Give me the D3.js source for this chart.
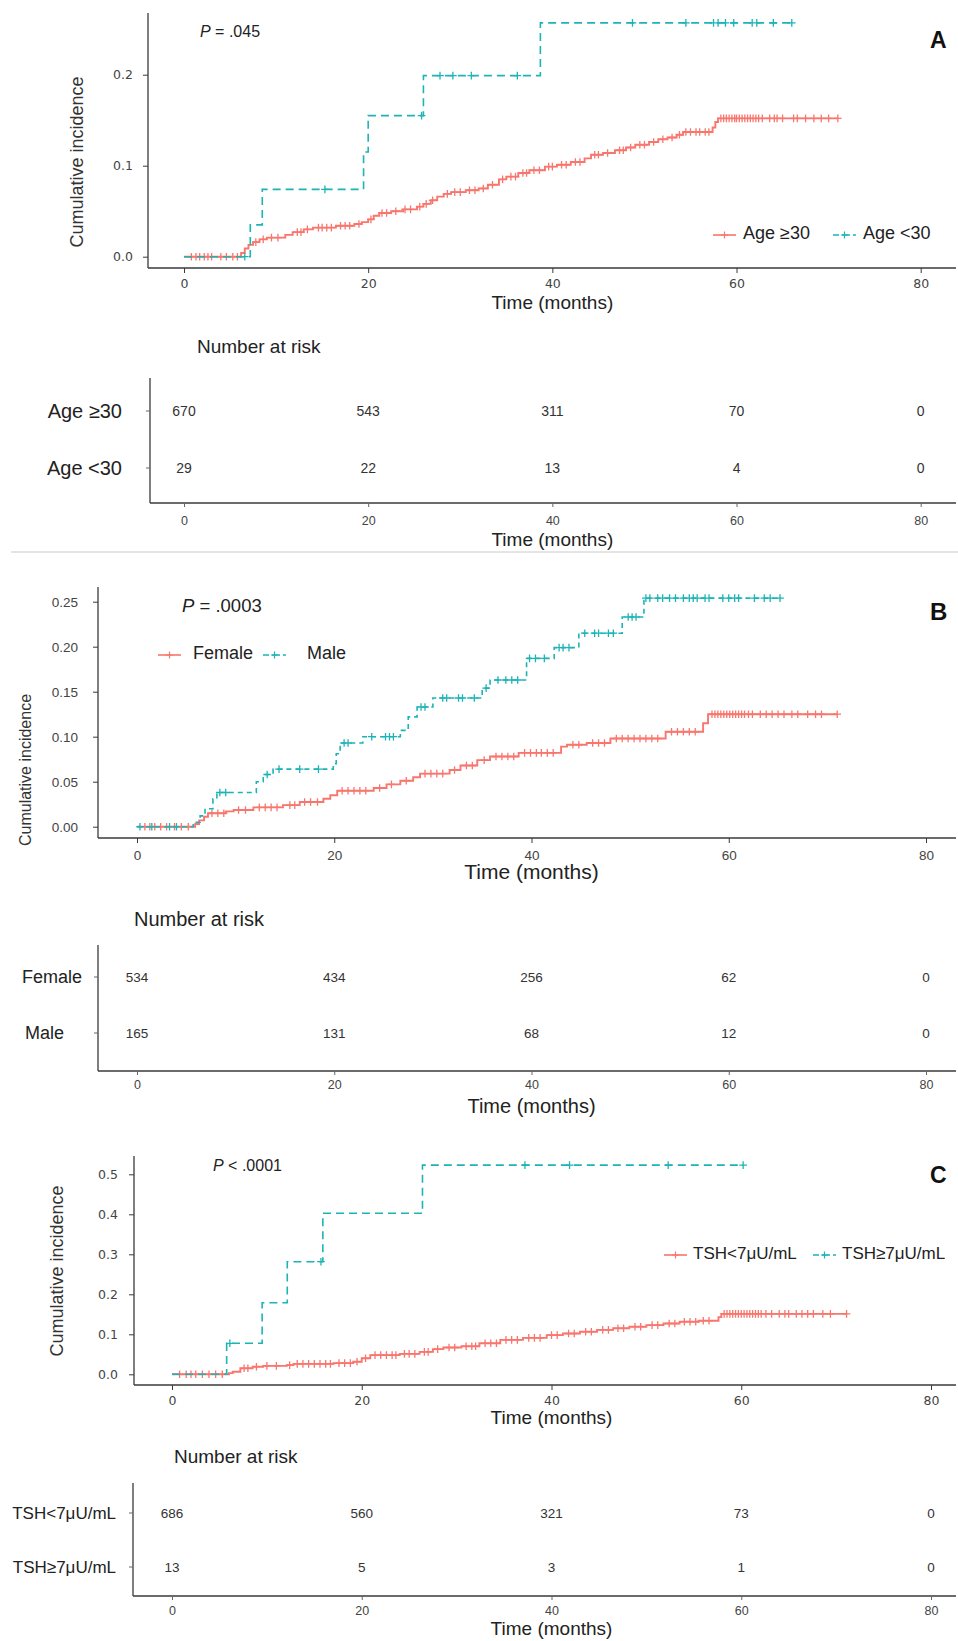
<!DOCTYPE html>
<html>
<head>
<meta charset="utf-8">
<script src="https://cdn.jsdelivr.net/npm/d3@7"></script>
<style>
  body { margin: 0; background: #fff; }
  svg { display: block; }
</style>
</head>
<body>
<script>
const RED = "#F8766D";
const TEAL = "#1DB4B6";
const xTicks = [0, 20, 40, 60, 80];
const riskTimes = [0, 20, 40, 60, 80];

// ---- Panel A : age ----
const ageGE30Times = [6.2, 6.6, 7.0, 7.5, 8.2, 9.0, 11.0, 11.8, 13.0, 14.0, 16.5, 18.5, 19.3, 20.0, 20.6, 21.2, 22.5, 23.8, 25.3, 26.0, 26.8, 27.5, 28.2, 29.0, 30.6, 32.0, 33.0, 34.2, 35.0, 36.3, 37.5, 39.2, 40.5, 42.0, 43.5, 44.2, 45.5, 46.8, 48.0, 49.0, 50.5, 51.5, 52.5, 53.5, 54.2, 57.4, 57.7, 58.0];
const ageGE30Inc   = [0.004, 0.009, 0.013, 0.016, 0.019, 0.021, 0.024, 0.027, 0.030, 0.032, 0.034, 0.036, 0.038, 0.041, 0.045, 0.048, 0.050, 0.052, 0.055, 0.058, 0.062, 0.066, 0.069, 0.071, 0.073, 0.075, 0.079, 0.085, 0.088, 0.092, 0.095, 0.099, 0.101, 0.104, 0.108, 0.112, 0.114, 0.117, 0.120, 0.123, 0.126, 0.129, 0.131, 0.134, 0.137, 0.142, 0.148, 0.152];
const ageGE30End = 71.0;
const ageGE30Censor = [0.8, 1.3, 1.7, 2.2, 2.6, 3.0, 4.0, 4.6, 5.3, 5.8, 7.8, 8.6, 9.5, 10.2, 12.3, 12.7, 13.4, 14.6, 15.0, 15.5, 16.0, 17.0, 17.5, 18.0, 19.0, 20.3, 21.5, 22.0, 23.0, 24.0, 24.6, 25.6, 26.3, 27.0, 28.6, 29.4, 30.0, 31.0, 31.6, 32.5, 33.5, 34.6, 35.5, 36.0, 36.8, 37.2, 38.0, 38.6, 39.6, 40.0, 41.0, 41.5, 42.5, 43.0, 44.6, 45.0, 46.0, 47.3, 47.7, 48.5, 49.5, 50.0, 51.0, 52.0, 53.0, 53.8, 54.5, 55.0, 55.6, 56.0, 56.6, 57.0, 58.3, 58.6, 58.9, 59.2, 59.5, 59.8, 60.0, 60.3, 60.6, 60.9, 61.2, 61.5, 61.8, 62.1, 62.4, 62.8, 63.6, 64.1, 64.4, 65.0, 66.2, 66.6, 67.5, 68.4, 69.2, 70.0, 71.0];
const ageLT30Times = [7.2, 8.5, 19.5, 20.0, 26.0, 38.7];
const ageLT30Inc   = [0.035, 0.074, 0.115, 0.155, 0.199, 0.257];
const ageLT30End = 66.0;
const ageLT30Censor = [6.6, 15.3, 25.8, 27.8, 29.2, 31.2, 36.2, 48.7, 54.5, 57.5, 58.0, 58.8, 59.7, 61.7, 62.2, 64.0, 66.0];
const ageRows = ["Age \u226530", "Age <30"];
const ageRisk = [[670, 543, 311, 70, 0], [29, 22, 13, 4, 0]];

// ---- Panel B : sex ----
const femaleTimes = [5.9, 6.3, 6.8, 7.2, 9.0, 9.8, 11.8, 14.8, 16.5, 18.9, 19.6, 20.3, 24.0, 25.3, 26.7, 28.0, 28.7, 31.7, 32.8, 34.5, 35.8, 38.7, 43.0, 43.6, 45.6, 48.0, 53.6, 57.4, 57.9];
const femaleInc   = [0.003, 0.007, 0.011, 0.015, 0.017, 0.0185, 0.0215, 0.024, 0.0275, 0.031, 0.035, 0.040, 0.043, 0.047, 0.051, 0.055, 0.059, 0.063, 0.068, 0.074, 0.078, 0.082, 0.089, 0.091, 0.093, 0.098, 0.1055, 0.115, 0.125];
const femaleEnd = 71.0;
const femaleCensor = [0.8, 1.3, 1.8, 2.4, 3.0, 3.8, 4.5, 5.2, 7.6, 8.2, 8.8, 10.3, 11.0, 12.4, 13.0, 13.6, 14.2, 15.5, 16.0, 17.0, 17.6, 18.3, 20.8, 21.4, 22.0, 22.6, 23.2, 24.6, 25.8, 27.3, 29.2, 29.8, 30.4, 31.0, 32.2, 33.4, 34.0, 35.2, 36.4, 37.0, 37.6, 38.2, 39.3, 39.9, 40.5, 41.0, 41.6, 42.2, 44.2, 44.8, 46.2, 46.8, 47.4, 48.6, 49.2, 49.8, 50.4, 51.0, 51.6, 52.2, 52.8, 54.2, 54.8, 55.4, 56.0, 56.6, 58.3, 58.6, 58.9, 59.2, 59.5, 59.8, 60.1, 60.4, 60.7, 61.0, 61.3, 61.6, 62.0, 62.4, 63.2, 63.8, 64.4, 65.0, 65.6, 66.4, 67.0, 68.0, 68.8, 69.4, 71.0];
const maleTimes = [5.7, 6.4, 6.9, 7.7, 8.1, 12.1, 12.8, 13.8, 19.9, 20.2, 20.6, 22.9, 26.7, 27.5, 28.4, 30.0, 35.0, 35.8, 39.5, 42.3, 44.8, 49.2, 51.4];
const maleInc   = [0.005, 0.012, 0.020, 0.031, 0.038, 0.050, 0.058, 0.064, 0.070, 0.081, 0.093, 0.100, 0.107, 0.122, 0.133, 0.143, 0.154, 0.163, 0.187, 0.199, 0.215, 0.233, 0.254];
const maleEnd = 65.2;
const maleCensor = [0.3, 1.5, 3.3, 4.0, 8.4, 9.0, 13.2, 14.4, 16.5, 18.4, 21.0, 21.4, 23.8, 25.2, 25.6, 26.0, 28.8, 29.2, 31.0, 31.4, 32.6, 33.0, 34.2, 35.4, 36.6, 37.4, 38.0, 38.6, 39.8, 40.4, 41.3, 42.8, 43.2, 43.8, 45.4, 46.4, 46.8, 47.8, 48.3, 49.8, 50.2, 50.6, 51.6, 52.0, 52.8, 53.3, 54.0, 54.6, 55.4, 56.0, 56.4, 56.8, 57.6, 58.0, 59.4, 60.0, 60.6, 61.0, 62.6, 63.6, 64.2, 65.2];
const sexRows = ["Female", "Male"];
const sexRisk = [[534, 434, 256, 62, 0], [165, 131, 68, 12, 0]];

// ---- Panel C : TSH ----
const tshLowTimes = [6.0, 6.4, 7.2, 8.5, 9.6, 12.1, 12.8, 17.0, 19.1, 20.0, 20.9, 24.0, 26.1, 27.5, 28.6, 30.5, 32.4, 34.6, 37.0, 39.5, 41.2, 43.0, 44.8, 46.5, 48.2, 50.0, 51.8, 53.5, 55.5, 57.6, 57.9];
const tshLowInc   = [0.003, 0.0065, 0.015, 0.019, 0.021, 0.023, 0.026, 0.028, 0.0315, 0.040, 0.048, 0.051, 0.056, 0.063, 0.067, 0.070, 0.0775, 0.086, 0.091, 0.098, 0.102, 0.1065, 0.111, 0.115, 0.119, 0.123, 0.127, 0.1315, 0.134, 0.143, 0.151];
const tshLowEnd = 71.1;
const tshLowCensor = [0.8, 1.5, 2.0, 2.5, 3.2, 3.9, 4.6, 5.3, 7.6, 8.0, 8.9, 10.0, 11.0, 12.4, 13.2, 13.8, 14.4, 15.0, 15.6, 16.2, 16.7, 17.6, 18.2, 18.8, 19.5, 20.4, 21.4, 22.0, 22.6, 23.2, 23.6, 24.5, 25.0, 25.6, 26.6, 27.0, 28.0, 29.2, 29.8, 31.0, 31.6, 32.0, 33.0, 33.6, 34.2, 35.2, 35.8, 36.4, 37.6, 38.2, 38.8, 40.0, 40.6, 41.8, 42.4, 43.6, 44.2, 45.4, 46.0, 47.0, 47.6, 48.8, 49.4, 50.6, 51.2, 52.4, 53.0, 54.0, 54.6, 55.2, 56.0, 56.6, 58.2, 58.5, 58.8, 59.1, 59.4, 59.7, 60.0, 60.3, 60.6, 60.9, 61.2, 61.5, 61.8, 62.1, 62.6, 63.2, 64.0, 64.6, 65.0, 65.8, 66.4, 67.0, 67.6, 68.6, 69.4, 71.1];
const tshHighTimes = [5.76, 9.5, 12.15, 15.9, 26.4];
const tshHighInc   = [0.0775, 0.179, 0.2815, 0.4025, 0.523];
const tshHighEnd = 60.2;
const tshHighCensor = [6.1, 15.7, 37.2, 41.9, 52.3, 60.2];
const tshRows = ["TSH<7\u03bcU/mL", "TSH\u22657\u03bcU/mL"];
const tshRisk = [[686, 560, 321, 73, 0], [13, 5, 3, 1, 0]];

const SANS = "'Liberation Sans', Arial, sans-serif";
const DEJA = "'DejaVu Sans', Verdana, sans-serif";

const panels = [
  {
    letter: "A", pSign: "=", pValue: ".045",
    series: [
      {times: ageGE30Times, inc: ageGE30Inc, end: ageGE30End, censor: ageGE30Censor, color: RED, dash: null},
      {times: ageLT30Times, inc: ageLT30Inc, end: ageLT30End, censor: ageLT30Censor, color: TEAL, dash: "8,5"}
    ],
    legend: ageRows, rows: ageRows, risk: ageRisk,
    yTicks: [0, 0.1, 0.2], yFmt: ".1f",
    L: {x0: 184, x80: 920.7, axL: 148, y0: 256.7, y1: 165.7, yv1: 0.1, top: 13, bot: 268,
        tickFont: DEJA, tickSize: 12.5, tickGap: 10, xLabY: 288,
        xTitleY: 309, xTitleSize: 19, yTitleX: 77, yTitleY: 162, yTitleSize: 18,
        pX: 200, pY: 37, pSize: 16, letterY: 48, letterSize: 23,
        legY: 239, legSize: 18, legKeys: [713, 833], legText: [743, 863],
        narX: 197, narY: 353, narSize: 19, rAxL: 150, rTop: 378, rBot: 503,
        rowY: [411, 468], rowX: [122, 122], rowSize: 20, numSize: 14,
        rTickY: 525, rTitleY: 546, rTitleSize: 19, sep: 552}
  },
  {
    letter: "B", pSign: "=", pValue: ".0003",
    series: [
      {times: femaleTimes, inc: femaleInc, end: femaleEnd, censor: femaleCensor, color: RED, dash: null},
      {times: maleTimes, inc: maleInc, end: maleEnd, censor: maleCensor, color: TEAL, dash: "5,4"}
    ],
    legend: sexRows, rows: sexRows, risk: sexRisk,
    yTicks: [0, 0.05, 0.10, 0.15, 0.20, 0.25], yFmt: ".2f",
    L: {x0: 137, x80: 926, axL: 98, y0: 826.7, y1: 781.7, yv1: 0.05, top: 587, bot: 838,
        tickFont: SANS, tickSize: 13.5, tickGap: 15, xLabY: 860,
        xTitleY: 879, xTitleSize: 21, yTitleX: 25, yTitleY: 770, yTitleSize: 16,
        pX: 182, pY: 612, pSize: 18.5, letterY: 620, letterSize: 24,
        legY: 659, legSize: 18, legKeys: [158, 263], legText: [193, 307],
        narX: 134, narY: 926, narSize: 20, rAxL: 98, rTop: 945, rBot: 1071,
        rowY: [977, 1033], rowX: [82, 64], rowSize: 18, numSize: 13.5,
        rTickY: 1089, rTitleY: 1113, rTitleSize: 20, sep: null}
  },
  {
    letter: "C", pSign: "<", pValue: ".0001",
    series: [
      {times: tshLowTimes, inc: tshLowInc, end: tshLowEnd, censor: tshLowCensor, color: RED, dash: null},
      {times: tshHighTimes, inc: tshHighInc, end: tshHighEnd, censor: tshHighCensor, color: TEAL, dash: "8,5"}
    ],
    legend: tshRows, rows: tshRows, risk: tshRisk,
    yTicks: [0, 0.1, 0.2, 0.3, 0.4, 0.5], yFmt: ".1f",
    L: {x0: 172, x80: 931, axL: 134, y0: 1374.3, y1: 1334.3, yv1: 0.1, top: 1156, bot: 1385,
        tickFont: DEJA, tickSize: 12.5, tickGap: 11, xLabY: 1405,
        xTitleY: 1424, xTitleSize: 19, yTitleX: 57, yTitleY: 1271, yTitleSize: 18,
        pX: 213, pY: 1171, pSize: 16, letterY: 1183, letterSize: 23,
        legY: 1259, legSize: 17, legKeys: [664, 813], legText: [693, 842],
        narX: 174, narY: 1463, narSize: 19, rAxL: 133, rTop: 1483, rBot: 1596,
        rowY: [1513, 1567], rowX: [116, 116], rowSize: 17, numSize: 13.5,
        rTickY: 1615, rTitleY: 1635, rTitleSize: 19, sep: null}
  }
];

const W = 958, H = 1641;
const svg = d3.select("body").append("svg").attr("width", W).attr("height", H);

function plus(x, y, s) {
  return `M${x - s},${y}h${2 * s}M${x},${y - s}v${2 * s}`;
}
function valueAt(times, inc, t) {
  let v = 0;
  times.forEach((tt, i) => { if (tt <= t) v = inc[i]; });
  return v;
}

panels.forEach(p => {
  const L = p.L;
  const x = d3.scaleLinear().domain([0, 80]).range([L.x0, L.x80]);
  const y = d3.scaleLinear().domain([0, L.yv1]).range([L.y0, L.y1]);
  const g = svg.append("g");

  // axes
  const axisCol = "#3a3a3a";
  g.append("line").attr("x1", L.axL).attr("x2", L.axL).attr("y1", L.top).attr("y2", L.bot)
    .attr("stroke", axisCol).attr("stroke-width", 1.3);
  g.append("line").attr("x1", L.axL).attr("x2", W - 2).attr("y1", L.bot).attr("y2", L.bot)
    .attr("stroke", axisCol).attr("stroke-width", 1.3);

  const yAx = g.append("g").attr("transform", `translate(${L.axL},0)`)
    .call(d3.axisLeft(y).tickValues(p.yTicks).tickFormat(d3.format(p.yFmt)).tickSize(5).tickPadding(L.tickGap));
  yAx.select(".domain").remove();
  yAx.selectAll("line").attr("stroke", axisCol);
  yAx.selectAll("text").attr("font-family", L.tickFont).attr("font-size", L.tickSize).attr("fill", "#444");

  const xAx = g.append("g").attr("transform", `translate(0,${L.bot})`)
    .call(d3.axisBottom(x).tickValues(xTicks).tickSize(5).tickPadding(4));
  xAx.select(".domain").remove();
  xAx.selectAll("line").attr("stroke", axisCol);
  xAx.selectAll("text").attr("font-family", L.tickFont).attr("font-size", L.tickSize).attr("fill", "#444")
    .attr("dy", null).attr("y", L.xLabY - L.bot);

  // titles
  g.append("text").attr("x", x(40)).attr("y", L.xTitleY).attr("text-anchor", "middle")
    .attr("font-family", SANS).attr("font-size", L.xTitleSize).attr("fill", "#222").text("Time (months)");
  g.append("text").attr("transform", `translate(${L.yTitleX},${L.yTitleY}) rotate(-90)`)
    .attr("text-anchor", "middle").attr("dy", "0.35em")
    .attr("font-family", SANS).attr("font-size", L.yTitleSize).attr("fill", "#333").text("Cumulative incidence");

  const pt = g.append("text").attr("x", L.pX).attr("y", L.pY)
    .attr("font-family", SANS).attr("font-size", L.pSize).attr("fill", "#222");
  pt.append("tspan").attr("font-style", "italic").text("P");
  pt.append("tspan").text(` ${p.pSign} ${p.pValue}`);

  g.append("text").attr("x", 930).attr("y", L.letterY)
    .attr("font-family", SANS).attr("font-weight", "bold").attr("font-size", L.letterSize)
    .attr("fill", "#111").text(p.letter);

  // curves
  const line = d3.line().curve(d3.curveStepAfter).x(d => x(d[0])).y(d => y(d[1]));
  p.series.forEach(s => {
    const pts = [[0, 0]].concat(s.times.map((t, i) => [t, s.inc[i]]), [[s.end, s.inc[s.inc.length - 1]]]);
    g.append("path").attr("d", line(pts)).attr("fill", "none")
      .attr("stroke", s.color).attr("stroke-width", s.dash ? 1.6 : 1.9)
      .attr("stroke-dasharray", s.dash);
    g.append("path")
      .attr("d", s.censor.map(t => plus(x(t), y(valueAt(s.times, s.inc, t)), 3.8)).join(""))
      .attr("stroke", s.color).attr("stroke-width", 1.3).attr("fill", "none");
  });

  // legend
  p.legend.forEach((lab, i) => {
    const s = p.series[i];
    const kx = L.legKeys[i], ky = L.legY - 4;
    g.append("line").attr("x1", kx).attr("x2", kx + 23).attr("y1", ky).attr("y2", ky)
      .attr("stroke", s.color).attr("stroke-width", 1.6)
      .attr("stroke-dasharray", s.dash ? "6,3,8,3" : null);
    g.append("path").attr("d", plus(kx + 11.5, ky, 3.6)).attr("stroke", s.color).attr("stroke-width", 1.2);
    g.append("text").attr("x", L.legText[i]).attr("y", L.legY)
      .attr("font-family", SANS).attr("font-size", L.legSize).attr("fill", "#222").text(lab);
  });

  // number at risk table
  g.append("text").attr("x", L.narX).attr("y", L.narY)
    .attr("font-family", SANS).attr("font-size", L.narSize).attr("fill", "#222").text("Number at risk");
  g.append("line").attr("x1", L.rAxL).attr("x2", L.rAxL).attr("y1", L.rTop).attr("y2", L.rBot)
    .attr("stroke", axisCol).attr("stroke-width", 1.3);
  g.append("line").attr("x1", L.rAxL).attr("x2", W - 2).attr("y1", L.rBot).attr("y2", L.rBot)
    .attr("stroke", axisCol).attr("stroke-width", 1.3);
  const rx = g.append("g").attr("transform", `translate(0,${L.rBot})`)
    .call(d3.axisBottom(x).tickValues(riskTimes).tickSize(4).tickPadding(4));
  rx.select(".domain").remove();
  rx.selectAll("line").attr("stroke", "#666");
  rx.selectAll("text").attr("font-family", SANS).attr("font-size", 12.5).attr("fill", "#444")
    .attr("dy", null).attr("y", L.rTickY - L.rBot);
  g.append("text").attr("x", x(40)).attr("y", L.rTitleY).attr("text-anchor", "middle")
    .attr("font-family", SANS).attr("font-size", L.rTitleSize).attr("fill", "#222").text("Time (months)");

  p.rows.forEach((lab, r) => {
    const ry = L.rowY[r];
    g.append("line").attr("x1", L.rAxL - 4).attr("x2", L.rAxL).attr("y1", ry).attr("y2", ry)
      .attr("stroke", "#666");
    g.append("text").attr("x", L.rowX[r]).attr("y", ry).attr("dy", "0.35em").attr("text-anchor", "end")
      .attr("font-family", SANS).attr("font-size", L.rowSize).attr("fill", "#222").text(lab);
    g.selectAll(null).data(p.risk[r]).join("text")
      .attr("x", (d, i) => x(riskTimes[i])).attr("y", ry).attr("dy", "0.35em").attr("text-anchor", "middle")
      .attr("font-family", SANS).attr("font-size", L.numSize).attr("fill", "#333").text(d => d);
  });

  if (L.sep) {
    g.append("line").attr("x1", 11).attr("x2", W).attr("y1", L.sep).attr("y2", L.sep)
      .attr("stroke", "#ddd").attr("stroke-width", 1.5);
  }
});
</script>
</body>
</html>
